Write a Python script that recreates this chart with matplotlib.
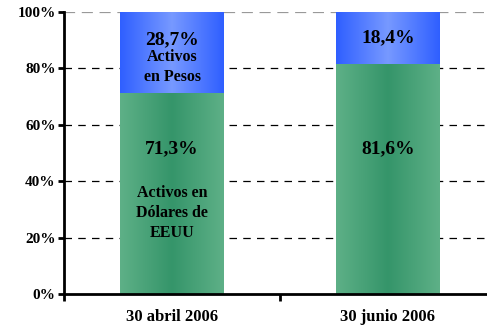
import numpy as np
import matplotlib
matplotlib.use("Agg")
import matplotlib.pyplot as plt
from matplotlib.colors import LinearSegmentedColormap
from matplotlib.ticker import FixedLocator

fechas = ["30 abril 2006", "30 junio 2006"]
dolares = [71.3, 81.6]
pesos = [28.7, 18.4]
yticks = [0, 20, 40, 60, 80, 100]

plt.rcParams["font.family"] = ["Liberation Serif", "DejaVu Serif"]
plt.rcParams["font.weight"] = "bold"

fig = plt.figure(figsize=(4.87, 3.25), dpi=100)
ax = fig.add_axes([64 / 487, 1 - 294 / 325, 432 / 487, 282 / 325])

x = np.arange(len(fechas))
ancho = 0.48

verde = LinearSegmentedColormap.from_list("verde", ["#5eb087", "#35956a", "#5eb087"])
azul = LinearSegmentedColormap.from_list("azul", ["#2f5fff", "#7799ff", "#2f5fff"])
grad = np.linspace(0, 1, 256).reshape(1, -1)

b1 = ax.bar(x, dolares, ancho, color="none", zorder=2)
b2 = ax.bar(x, pesos, ancho, bottom=dolares, color="none", zorder=2)

# relleno con degradado horizontal dentro de cada barra
for barras, cmap in ((b1, verde), (b2, azul)):
    for r in barras:
        x0, y0 = r.get_x(), r.get_y()
        im = ax.imshow(grad, cmap=cmap, aspect="auto", zorder=2,
                       extent=(x0, x0 + r.get_width(), y0, y0 + r.get_height()))
        im.set_clip_path(r)

ax.set_xlim(-0.5, 1.5)
ax.set_ylim(0, 100)

for v in [20, 40, 60, 80]:
    ax.axhline(v, color="black", lw=0.9, ls=(0, (6, 5)), zorder=1)
ax.axhline(100, color="#999999", lw=1.6, ls=(0, (5, 3)), zorder=1)

ax.set_yticks(yticks)
ax.set_yticklabels([f"{v}%" for v in yticks], fontsize=11, fontweight="bold")
ax.set_xticks(x)
ax.set_xticklabels(fechas, fontsize=12, fontweight="bold")
ax.xaxis.set_minor_locator(FixedLocator([-0.5, 0.5, 1.5]))
ax.tick_params(axis="x", which="major", direction="in", length=3, width=2, pad=11)
ax.tick_params(axis="x", which="minor", direction="out", length=5, width=2)
ax.tick_params(axis="y", direction="out", length=4, width=2, pad=2)

for s in ["top", "right"]:
    ax.spines[s].set_visible(False)
ax.spines["left"].set_linewidth(2)
ax.spines["bottom"].set_linewidth(2)

for i in range(len(fechas)):
    ax.text(x[i], dolares[i] + pesos[i] / 2 + (4.6 if i == 0 else 0.0),
            f"{pesos[i]:.1f}%".replace(".", ","),
            ha="center", va="center", fontsize=14, fontweight="bold", zorder=3)
    ax.text(x[i], 51.6, f"{dolares[i]:.1f}%".replace(".", ","),
            ha="center", va="center", fontsize=14, fontweight="bold", zorder=3)

ax.text(x[0], 80.6, "Activos\nen Pesos", ha="center", va="center",
        fontsize=11.5, fontweight="bold", linespacing=1.3, zorder=3)
ax.text(x[0], 28.8, "Activos en\nDólares de\nEEUU", ha="center", va="center",
        fontsize=11.5, fontweight="bold", linespacing=1.35, zorder=3)

fig.savefig("out.png", dpi=100)
